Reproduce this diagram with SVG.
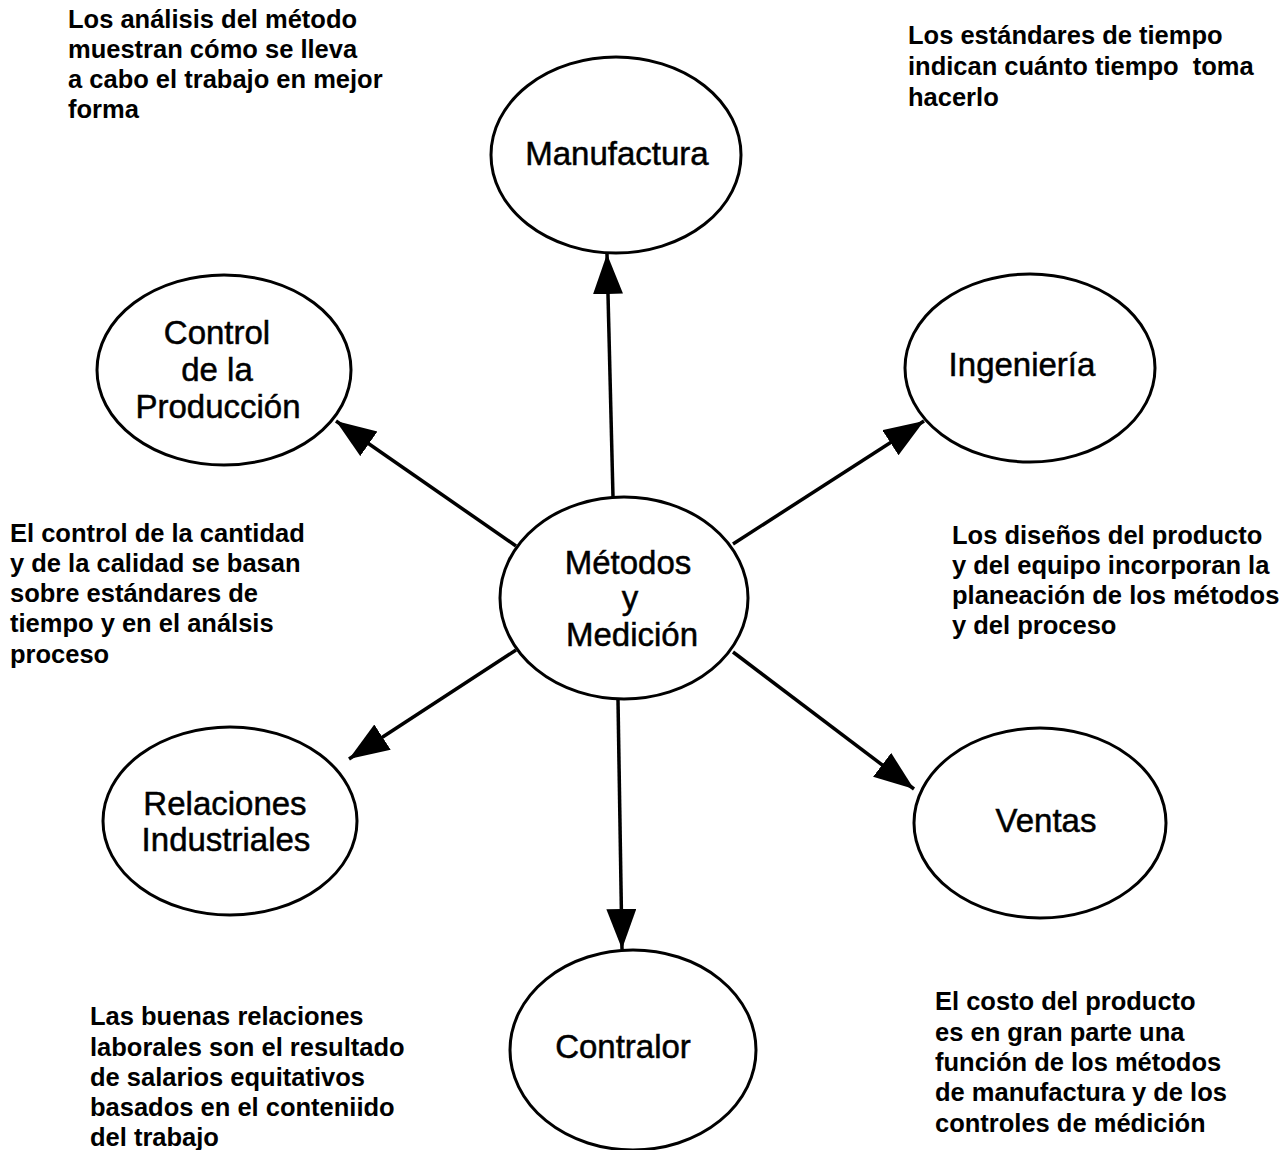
<svg xmlns="http://www.w3.org/2000/svg" width="1287" height="1150" viewBox="0 0 1287 1150">
  <style>
    .node { fill: #fff; stroke: #000; stroke-width: 3; }
    .label { font-family: "Liberation Sans", Arial, sans-serif; font-size: 33px; fill: #000; stroke: #000; stroke-width: 0.5; text-anchor: middle; }
    .note { font-family: "Liberation Sans", Arial, sans-serif; font-size: 25.5px; font-weight: bold; fill: #000; white-space: pre; }
    .link { stroke: #000; stroke-width: 3.5; fill: none; marker-end: url(#head); }
  </style>
  <defs>
    <marker id="head" markerUnits="userSpaceOnUse" markerWidth="42" markerHeight="32" refX="40" refY="15" orient="auto">
      <path d="M0,0 L40,15 L0,30 Z" fill="#000"/>
    </marker>
  </defs>
  <rect width="1287" height="1150" fill="#fff"/>

  <!-- connectors from the central node -->
  <g id="connectors">
    <line class="link" x1="613" y1="497" x2="607" y2="254"/>
    <line class="link" x1="516" y1="546" x2="336" y2="421"/>
    <line class="link" x1="733" y1="544" x2="924" y2="421"/>
    <line class="link" x1="516" y1="650" x2="349" y2="759"/>
    <line class="link" x1="733" y1="652" x2="914" y2="789"/>
    <line class="link" x1="618" y1="700" x2="622" y2="949"/>
  </g>

  <g id="manufactura">
    <ellipse class="node" cx="616" cy="155" rx="125" ry="98"/>
    <text class="label" x="617" y="165">Manufactura</text>
  </g>
  <g id="control-produccion">
    <ellipse class="node" cx="224" cy="370" rx="127" ry="95"/>
    <text class="label" x="217" y="344">Control</text>
    <text class="label" x="217" y="381">de la</text>
    <text class="label" x="218" y="418">Producción</text>
  </g>
  <g id="ingenieria">
    <ellipse class="node" cx="1030" cy="368" rx="125" ry="94"/>
    <text class="label" x="1022" y="376">Ingeniería</text>
  </g>
  <g id="metodos-medicion">
    <ellipse class="node" cx="624" cy="598" rx="124" ry="101"/>
    <text class="label" x="628" y="574">Métodos</text>
    <text class="label" x="630" y="609">y</text>
    <text class="label" x="632" y="646">Medición</text>
  </g>
  <g id="relaciones-industriales">
    <ellipse class="node" cx="230" cy="821" rx="127" ry="94"/>
    <text class="label" x="225" y="815">Relaciones</text>
    <text class="label" x="226" y="851">Industriales</text>
  </g>
  <g id="ventas">
    <ellipse class="node" cx="1040" cy="823" rx="126" ry="95"/>
    <text class="label" x="1046" y="832">Ventas</text>
  </g>
  <g id="contralor">
    <ellipse class="node" cx="633" cy="1050" rx="123" ry="100"/>
    <text class="label" x="623" y="1058">Contralor</text>
  </g>

  <!-- explanatory notes -->
  <g id="note-manufactura">
    <text class="note" x="68" y="28">Los análisis del método</text>
    <text class="note" x="68" y="58">muestran cómo se lleva</text>
    <text class="note" x="68" y="88">a cabo el trabajo en mejor</text>
    <text class="note" x="68" y="118">forma</text>
  </g>
  <g id="note-tiempo">
    <text class="note" x="908" y="44">Los estándares de tiempo</text>
    <text class="note" x="908" y="75" xml:space="preserve">indican cuánto tiempo  toma</text>
    <text class="note" x="908" y="106">hacerlo</text>
  </g>
  <g id="note-control">
    <text class="note" x="10" y="542">El control de la cantidad</text>
    <text class="note" x="10" y="572">y de la calidad se basan</text>
    <text class="note" x="10" y="602">sobre estándares de</text>
    <text class="note" x="10" y="632">tiempo y en el análsis</text>
    <text class="note" x="10" y="663">proceso</text>
  </g>
  <g id="note-ingenieria">
    <text class="note" x="952" y="544">Los diseños del producto</text>
    <text class="note" x="952" y="574">y del equipo incorporan la</text>
    <text class="note" x="952" y="604">planeación de los métodos</text>
    <text class="note" x="952" y="634">y del proceso</text>
  </g>
  <g id="note-relaciones">
    <text class="note" x="90" y="1025">Las buenas relaciones</text>
    <text class="note" x="90" y="1056">laborales son el resultado</text>
    <text class="note" x="90" y="1086">de salarios equitativos</text>
    <text class="note" x="90" y="1116">basados en el conteniido</text>
    <text class="note" x="90" y="1146">del trabajo</text>
  </g>
  <g id="note-costo">
    <text class="note" x="935" y="1010">El costo del producto</text>
    <text class="note" x="935" y="1041">es en gran parte una</text>
    <text class="note" x="935" y="1071">función de los métodos</text>
    <text class="note" x="935" y="1101">de manufactura y de los</text>
    <text class="note" x="935" y="1132">controles de médición</text>
  </g>
</svg>
